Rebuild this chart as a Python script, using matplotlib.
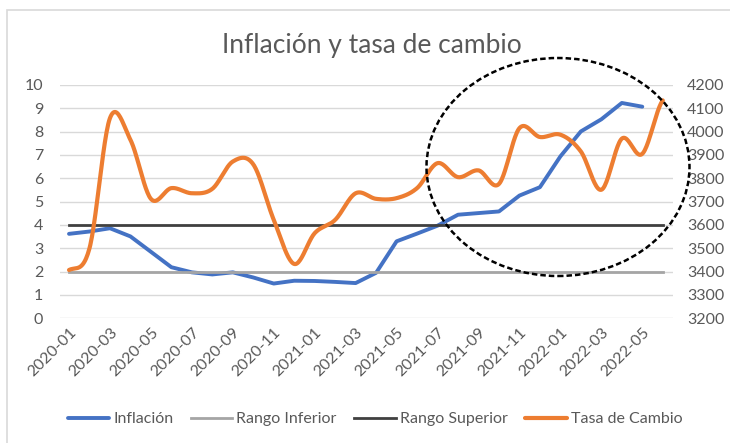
import numpy as np
import matplotlib
matplotlib.use("Agg")
import matplotlib.pyplot as plt
from matplotlib.patches import Ellipse, Rectangle

# ---- data ----
meses = ["2020-01", "2020-02", "2020-03", "2020-04", "2020-05", "2020-06",
         "2020-07", "2020-08", "2020-09", "2020-10", "2020-11", "2020-12",
         "2021-01", "2021-02", "2021-03", "2021-04", "2021-05", "2021-06",
         "2021-07", "2021-08", "2021-09", "2021-10", "2021-11", "2021-12",
         "2022-01", "2022-02", "2022-03", "2022-04", "2022-05", "2022-06"]
inflacion = [3.62, 3.72, 3.86, 3.51, 2.85, 2.19, 1.97, 1.88, 1.97, 1.75,
             1.49, 1.61, 1.60, 1.56, 1.51, 1.95, 3.30, 3.63, 3.97, 4.44,
             4.51, 4.58, 5.26, 5.62, 6.94, 8.01, 8.53, 9.23, 9.07]
rango_inferior = [2] * 30
rango_superior = [4] * 30
tasa_cambio = [3407, 3500, 4058, 3965, 3712, 3758, 3736, 3755, 3872, 3860,
               3622, 3433, 3565, 3622, 3736, 3712, 3715, 3758, 3865, 3805,
               3834, 3776, 4015, 3977, 3987, 3915, 3751, 3970, 3905, 4134]
left_ticks = list(range(0, 11))
right_ticks = list(range(3200, 4201, 100))

plt.rcParams['font.family'] = ['Lato', 'DejaVu Sans']
GRAY = "#595959"

def smooth(y, n=24):
    y = np.asarray(y, float)
    p = np.concatenate([[y[0]], y, [y[-1]]])
    xs, ys = [], []
    for i in range(len(y) - 1):
        p0, p1, p2, p3 = p[i], p[i + 1], p[i + 2], p[i + 3]
        t = np.linspace(0, 1, n, endpoint=False)
        c1 = p1 + (p2 - p0) / 6
        c2 = p2 - (p3 - p1) / 6
        yy = (1 - t) ** 3 * p1 + 3 * (1 - t) ** 2 * t * c1 + 3 * (1 - t) * t ** 2 * c2 + t ** 3 * p2
        xs.append(i + t)
        ys.append(yy)
    xs.append([len(y) - 1])
    ys.append([y[-1]])
    return np.concatenate(xs), np.concatenate(ys)

fig = plt.figure(figsize=(7.30, 4.43), dpi=100)
fig.patch.set_facecolor("white")

# chart border (light gray, top/left visible)
fig.add_artist(Rectangle((7 / 730, -0.1), 1.2, (443 - 10) / 443 + 0.1,
                         transform=fig.transFigure, fill=False,
                         edgecolor="#d9d9d9", lw=1.2))

ax = fig.add_axes([60 / 730, 1 - 318.3 / 443, 613 / 730, (318.3 - 85) / 443])
ax2 = ax.twinx()

x = np.arange(len(meses))
ax.set_xlim(-0.44, 29.5)
ax.set_ylim(0, 10)
ax2.set_ylim(3200, 4200)

ax.set_yticks(left_ticks)
ax.set_yticklabels([str(v) for v in left_ticks])
ax2.set_yticks(right_ticks)
ax2.set_yticklabels([str(v) for v in right_ticks])
ax.grid(axis="y", color="#d9d9d9", lw=1.0)
ax.set_axisbelow(True)

for a in (ax, ax2):
    for s in a.spines.values():
        s.set_visible(False)
    a.tick_params(length=0, colors=GRAY, labelsize=11.5)
ax.tick_params(axis="y", pad=12)
ax2.tick_params(axis="y", pad=10)

ax.set_xticks(x[::2])
ax.set_xticklabels(meses[::2], rotation=45, ha="right", va="top",
                   rotation_mode="anchor", fontsize=11.5, color=GRAY)
ax.tick_params(axis="x", pad=5)

l1, = ax.plot(np.arange(len(inflacion)), inflacion, color="#4472C4", lw=2.8,
              solid_capstyle="round", solid_joinstyle="round", label="Inflación")
l2, = ax.plot(x, rango_inferior, color="#A5A5A5", lw=2.0, label="Rango Inferior")
l3, = ax.plot(x, rango_superior, color="#404040", lw=2.0, label="Rango Superior")
sx, sy = smooth(tasa_cambio)
l4, = ax2.plot(sx, sy, color="#ED7D31", lw=3.0, solid_capstyle="round",
               label="Tasa de Cambio")

fig.text(0.510, 1 - 53 / 443, "Inflación y tasa de cambio", ha="center",
         va="baseline", fontsize=19, color=GRAY)

leg = fig.legend(handles=[l1, l2, l3, l4], loc="center", ncol=4,
                 bbox_to_anchor=(375 / 730, 1 - 419 / 443), frameon=False,
                 fontsize=11.5, handlelength=2.6, handletextpad=0.25,
                 columnspacing=1.1, labelcolor=GRAY)

fig.add_artist(Ellipse((558 / 730, 1 - 167 / 443), 263 / 730, 218 / 443,
                       transform=fig.transFigure, fill=False,
                       edgecolor="black", lw=1.8, linestyle=(0, (2.2, 1.2))))

fig.savefig("out.png", dpi=100, facecolor="white")
